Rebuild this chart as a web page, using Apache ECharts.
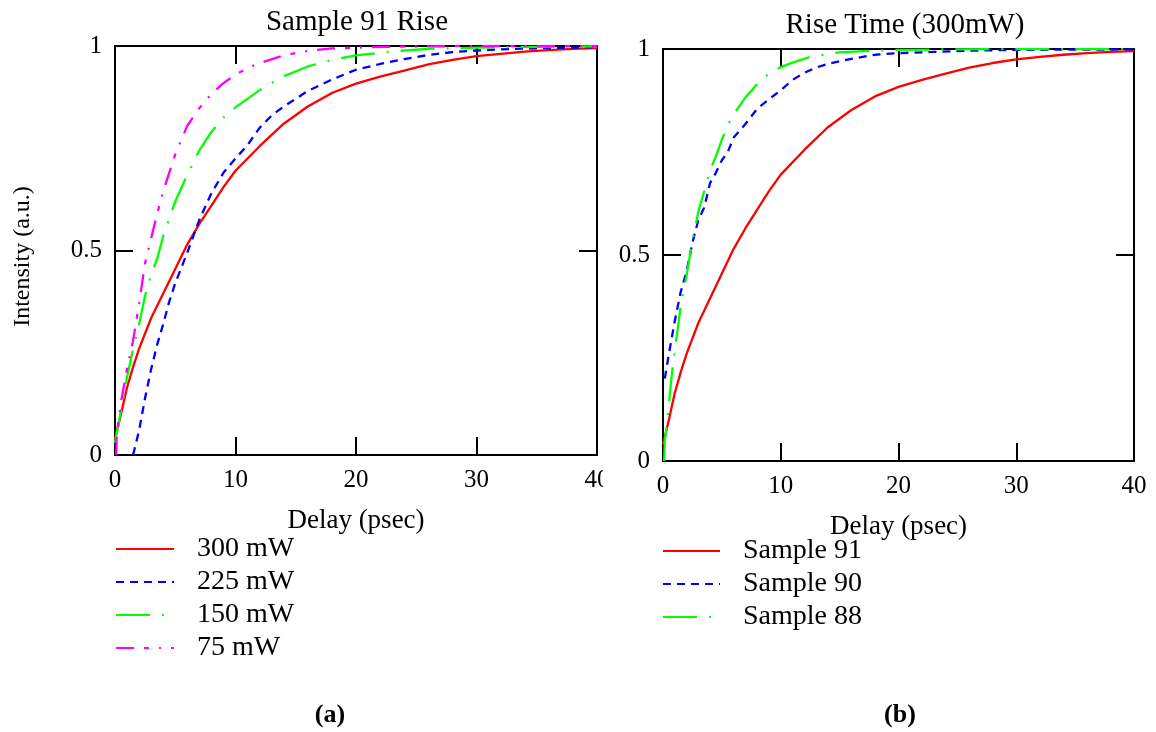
<!DOCTYPE html>
<html><head><meta charset="utf-8">
<script src="https://cdn.jsdelivr.net/npm/echarts@6/dist/echarts.min.js"></script>
<style>html,body{margin:0;padding:0;background:#fff}#c{width:1156px;height:732px}</style>
</head><body><div id="c"></div>
<script>
const FONT = 'Liberation Serif';

// ---- Panel (a): Sample 91 Rise ----
const t300 = [0,0.5,1,1.5,2,3,4,5,6,7,8,9,10,12,14,16,18,20,22,24,26,28,30,32,34,36,38,40];
const v300 = [0.04,0.1,0.165,0.215,0.26,0.335,0.395,0.455,0.515,0.565,0.61,0.655,0.695,0.755,0.81,0.852,0.885,0.908,0.925,0.94,0.955,0.966,0.975,0.981,0.986,0.99,0.993,0.995];

const t225 = [1.5,2,2.5,3,3.5,4,4.5,5,6,7,8,9,10,11,12,13,14,16,18,20,22,24,26,28,30,33,36,40];
const v225 = [0,0.06,0.14,0.21,0.27,0.32,0.375,0.42,0.495,0.575,0.64,0.69,0.725,0.758,0.8,0.83,0.852,0.89,0.918,0.942,0.956,0.968,0.978,0.985,0.989,0.993,0.995,0.997];

const t150 = [0,0.5,1,1.5,2,2.5,3,3.5,4,5,6,7,8,9,10,12,14,16,18,20,23,26,30,35,40];
const v150 = [0.03,0.11,0.19,0.26,0.32,0.39,0.44,0.48,0.535,0.62,0.685,0.745,0.79,0.825,0.85,0.892,0.926,0.95,0.966,0.977,0.987,0.993,0.996,0.998,0.999];

const t75 = [0.1,0.15,0.5,1,1.5,2,2.5,3,3.5,4,5,6,7,8,9,10,11,12,14,16,18,22,30,40];
const v75 = [0,0.05,0.13,0.21,0.28,0.37,0.47,0.53,0.59,0.645,0.735,0.805,0.848,0.883,0.909,0.93,0.946,0.958,0.977,0.988,0.994,0.998,1.0,1.0];

// ---- Panel (b): Rise Time (300mW) ----
const tS91 = t300;
const vS91 = v300;

const tS90 = [0.15,0.5,0.75,1,1.5,2,2.5,3,3.5,4,4.5,5,5.5,6,7,8,9,10,11,12,13,14,16,18,20,23,26,30,40];
const vS90 = [0.2,0.26,0.3,0.34,0.41,0.46,0.53,0.585,0.615,0.675,0.7,0.73,0.75,0.785,0.818,0.855,0.878,0.9,0.925,0.942,0.955,0.964,0.976,0.986,0.99,0.993,0.996,0.998,0.999];

const tS88 = [0.1,0.15,0.3,0.5,0.75,1,1.25,1.5,2,2.5,3,3.5,4,4.5,5,5.5,6,7,8,9,10,11,12.5,15,17,20,30,40];
const vS88 = [0,0.05,0.08,0.14,0.21,0.27,0.32,0.375,0.45,0.535,0.605,0.655,0.705,0.74,0.78,0.815,0.842,0.882,0.915,0.94,0.956,0.967,0.981,0.992,0.995,0.998,1.0,1.0];

const namesA = ['300 mW','225 mW','150 mW','75 mW'];
const namesB = ['Sample 91','Sample 90','Sample 88'];

function pairs(t, v) { return t.map((x, i) => [x, v[i]]); }

const lineAx = {show: true, onZero: false, lineStyle: {color: '#000', width: 2}};
const tickIn = {show: true, inside: true, length: 18, lineStyle: {color: '#000', width: 2}};

function xAxis(grid, pos, withLabels) {
  const a = {type: 'value', gridIndex: grid, position: pos, min: 0, max: 40, interval: 10,
    axisLine: lineAx, axisTick: tickIn, splitLine: {show: false},
    axisLabel: withLabels ? {show: true, margin: 13, color: '#000', fontFamily: FONT, fontSize: 25} : {show: false}};
  if (withLabels) {
    a.name = 'Delay (psec)'; a.nameLocation = 'middle'; a.nameGap = 52;
    a.nameTextStyle = {color: '#000', fontFamily: FONT, fontSize: 27};
  }
  return a;
}
function yAxis(grid, pos, withLabels, name) {
  const a = {type: 'value', gridIndex: grid, position: pos, min: 0, max: 1, interval: 0.5,
    axisLine: lineAx, axisTick: tickIn, splitLine: {show: false},
    axisLabel: withLabels ? {show: true, margin: 13, color: '#000', fontFamily: FONT, fontSize: 25, padding: [10, 0, 0, 0]} : {show: false}};
  if (name) {
    a.name = name; a.nameLocation = 'middle'; a.nameGap = 80; a.nameRotate = 90;
    a.nameTextStyle = {color: '#000', fontFamily: FONT, fontSize: 24, padding: [0, 12, 0, 0]};
  }
  return a;
}

function ser(name, xi, yi, t, v, color, type) {
  return {name, type: 'line', xAxisIndex: xi, yAxisIndex: yi, data: pairs(t, v),
    symbol: 'none', showSymbol: false, animation: false, silent: true,
    lineStyle: {color, width: 2.3, type}, itemStyle: {color}, emphasis: {disabled: true}};
}

const dashBlue = [8, 6];
const dashGreen = [34, 12, 2, 12];
const dashMag = [18, 10, 5, 10, 2, 10];

const legendCommon = {orient: 'vertical', padding: 0, itemHeight: 14, itemGap: 5, selectedMode: false,
  itemStyle: {opacity: 0, color: 'rgba(0,0,0,0)', borderWidth: 0},
  textStyle: {color: '#000', fontFamily: FONT, fontSize: 28, padding: [0, 0, 0, 18]}};

const option = {
  backgroundColor: '#fff',
  animation: false,
  grid: [
    {left: 115, top: 46, width: 482, height: 409},
    {left: 663, top: 49, width: 471, height: 412}
  ],
  xAxis: [xAxis(0, 'bottom', true), xAxis(0, 'top', false), xAxis(1, 'bottom', true), xAxis(1, 'top', false)],
  yAxis: [yAxis(0, 'left', true, 'Intensity (a.u.)'), yAxis(0, 'right', false), yAxis(1, 'left', true), yAxis(1, 'right', false)],
  legend: [
    Object.assign({}, legendCommon, {data: namesA, left: 115, top: 535, itemWidth: 58}),
    Object.assign({}, legendCommon, {data: namesB, left: 662, top: 537, itemWidth: 57})
  ],
  series: [
    ser(namesA[0], 0, 0, t300, v300, '#ff0000', 'solid'),
    ser(namesA[1], 0, 0, t225, v225, '#0000ff', dashBlue),
    ser(namesA[2], 0, 0, t150, v150, '#00ff00', dashGreen),
    ser(namesA[3], 0, 0, t75, v75, '#ff00ff', dashMag),
    ser(namesB[0], 2, 2, tS91, vS91, '#ff0000', 'solid'),
    ser(namesB[1], 2, 2, tS90, vS90, '#0000ff', dashBlue),
    ser(namesB[2], 2, 2, tS88, vS88, '#00ff00', dashGreen)
  ],
  graphic: [
    {type: 'rect', z: 100, shape: {x: 603, y: 465, width: 22, height: 38}, style: {fill: '#fff'}},
    {type: 'text', z: 100, x: 357, y: 22, style: {text: 'Sample 91 Rise', fill: '#000', font: '29px "Liberation Serif"', textAlign: 'center', textVerticalAlign: 'middle'}},
    {type: 'text', z: 100, x: 905, y: 25, style: {text: 'Rise Time (300mW)', fill: '#000', font: '29px "Liberation Serif"', textAlign: 'center', textVerticalAlign: 'middle'}},
    {type: 'text', z: 100, x: 330, y: 715, style: {text: '(a)', fill: '#000', font: 'bold 26px "Liberation Serif"', textAlign: 'center', textVerticalAlign: 'middle'}},
    {type: 'text', z: 100, x: 900, y: 715, style: {text: '(b)', fill: '#000', font: 'bold 26px "Liberation Serif"', textAlign: 'center', textVerticalAlign: 'middle'}}
  ]
};

const chart = echarts.init(document.getElementById('c'), null, {renderer: 'canvas'});
chart.setOption(option);
</script>
</body></html>
